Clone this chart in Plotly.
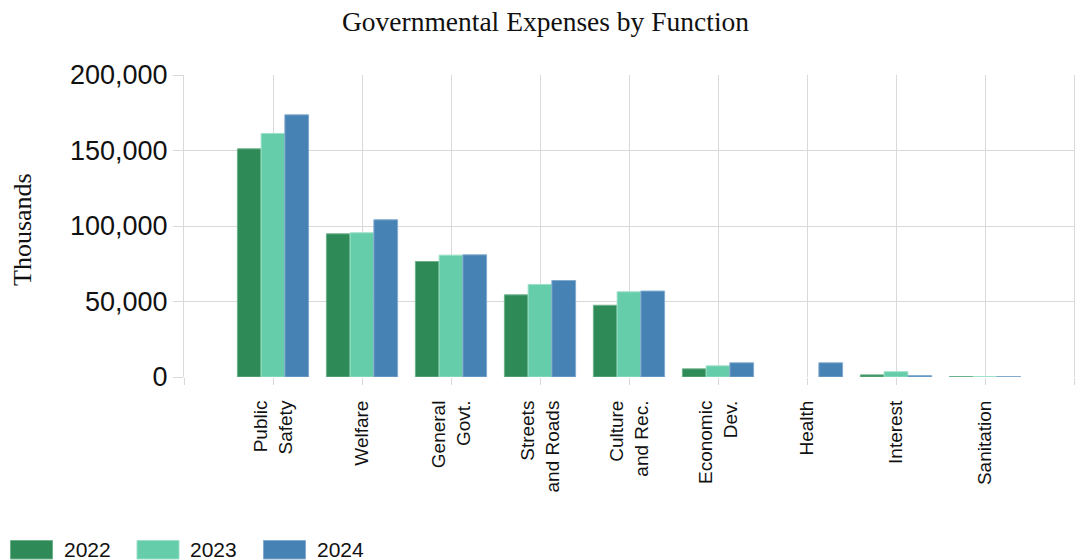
import plotly.graph_objects as go

categories = ["Public<br>Safety", "Welfare", "General<br>Govt.", "Streets<br>and Roads",
              "Culture<br>and Rec.", "Economic<br>Dev.", "Health", "Interest", "Sanitation"]
years = ["2022", "2023", "2024"]
values_2022 = [151100, 94800, 76500, 54400, 47500, 5400, 0, 1400, 300]
values_2023 = [161300, 95500, 80700, 61300, 56400, 7400, 0, 3500, 200]
values_2024 = [173600, 104100, 80900, 63900, 56900, 9400, 9400, 900, 300]
y_ticks = [0, 50000, 100000, 150000, 200000]

fill_colors = ["#2E8B57", "#66CDAA", "#4682B4"]
edge_colors = ["#6DB08A", "#9BE0C6", "#82AACF"]

series = [values_2022, values_2023, values_2024]
positions = list(range(len(categories)))

fig = go.Figure()
for name, vals, fc, ec in zip(years, series, fill_colors, edge_colors):
    fig.add_trace(go.Bar(
        x=positions, y=vals, name=name,
        marker=dict(color=fc,
                    line=dict(color=ec, width=[1 if v > 0 else 0 for v in vals])),
        showlegend=False,
    ))

# plot area geometry in pixels (used for legend / axis title placement)
W, H = 1078, 560
L, R, T, B = 184, 4, 75, 183
pw, ph = W - L - R, H - T - B


def px_x(x):
    return (x - L) / pw


def px_y(y):
    return (H - B - y) / ph


grid = "#d9d9d9"
fig.update_layout(
    width=W, height=H,
    margin=dict(l=L, r=R, t=T, b=B),
    paper_bgcolor="white", plot_bgcolor="white",
    barmode="group", bargap=0.2, bargroupgap=0,
    font=dict(family="Liberation Sans, Arial, sans-serif", color="#111"),
    title=dict(text="Governmental Expenses by Function",
               font=dict(family="Liberation Serif, Times New Roman, serif", size=27.5, color="#111"),
               x=545.5 / W, xanchor="center", xref="container",
               y=1 - 21 / H, yanchor="middle", yref="container"),
    xaxis=dict(
        range=[-1, len(categories)],
        tickmode="array",
        tickvals=list(range(-1, len(categories) + 1)),
        ticktext=[""] + categories + [""],
        tickangle=-90,
        tickfont=dict(size=19, color="#111"),
        showgrid=True, gridcolor=grid, gridwidth=1,
        ticks="outside", ticklen=7, tickcolor=grid,
        ticklabelstandoff=8,
        zeroline=False, showline=False,
        fixedrange=True,
    ),
    yaxis=dict(
        range=[0, 200000],
        tickmode="array", tickvals=y_ticks,
        ticktext=[f"{v:,}" for v in y_ticks],
        tickfont=dict(size=27, color="#111"),
        showgrid=True, gridcolor=grid, gridwidth=1,
        ticks="outside", ticklen=10, tickcolor=grid,
        zeroline=False,
        showline=True, linecolor=grid, linewidth=1, mirror=True,
        fixedrange=True,
    ),
)

# y-axis title
fig.add_annotation(
    text="Thousands", textangle=-90,
    xref="paper", yref="paper", x=px_x(22), y=px_y(230),
    xanchor="center", yanchor="middle", showarrow=False,
    font=dict(family="Liberation Serif, Times New Roman, serif", size=26, color="#111"),
)

# legend drawn along the bottom edge
swatch_left = [10.5, 137, 263.5]
for name, fc, ec, sx in zip(years, fill_colors, edge_colors, swatch_left):
    fig.add_shape(type="rect", xref="paper", yref="paper",
                  x0=px_x(sx), x1=px_x(sx + 42), y0=px_y(559), y1=px_y(540.5),
                  fillcolor=fc, line=dict(color=ec, width=1))
    fig.add_annotation(text=name, xref="paper", yref="paper",
                       x=px_x(sx + 51), y=px_y(549.5), xanchor="left", yanchor="middle",
                       showarrow=False, font=dict(size=21, color="#111"))

fig.write_html("out.html")
